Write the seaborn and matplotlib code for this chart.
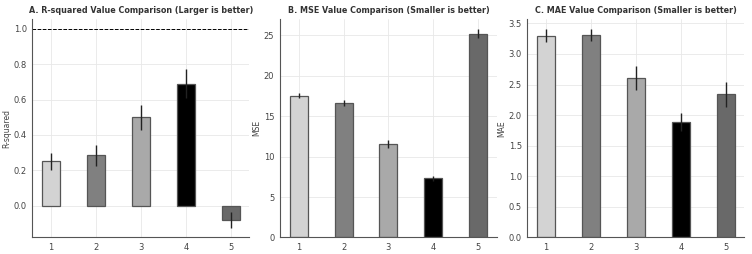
import matplotlib
matplotlib.use('Agg')
import matplotlib.pyplot as plt
import seaborn as sns
import pandas as pd

# data ---------------------------------------------------------------
models = ['1', '2', '3', '4', '5']
bar_colors = ['#d3d3d3', '#808080', '#a9a9a9', '#000000', '#696969']

r2_vals = [0.25, 0.285, 0.50, 0.69, -0.08]
r2_err = [0.05, 0.06, 0.07, 0.08, 0.045]

mse_vals = [17.5, 16.6, 11.6, 7.3, 25.2]
mse_err = [0.3, 0.4, 0.5, 0.3, 0.6]

mae_vals = [3.30, 3.31, 2.61, 1.89, 2.34]
mae_err = [0.10, 0.10, 0.20, 0.15, 0.20]

sns.set_style('whitegrid')
plt.rcParams['font.family'] = ['DejaVu Sans']

fig, axes = plt.subplots(1, 3, figsize=(7.52, 2.54), dpi=100)

panels = [
    (r2_vals, r2_err, 'R-squared', 'A. R-squared Value Comparison (Larger is better)', (-0.18, 1.055)),
    (mse_vals, mse_err, 'MSE', 'B. MSE Value Comparison (Smaller is better)', (0, 27)),
    (mae_vals, mae_err, 'MAE', 'C. MAE Value Comparison (Smaller is better)', (0, 3.57)),
]

for ax, (vals, err, ylab, title, ylim) in zip(axes, panels):
    df = pd.DataFrame({'model': models, 'value': vals})
    sns.barplot(data=df, x='model', y='value', hue='model', palette=bar_colors,
                legend=False, width=0.4, edgecolor='#555555', linewidth=0.9, ax=ax)
    ax.errorbar(range(len(models)), vals, yerr=err, fmt='none', ecolor='#222222',
                elinewidth=1.0, capsize=0, zorder=5)
    ax.set_ylim(*ylim)
    ax.set_title(title, fontsize=5.8, fontweight='bold', color='#333333', pad=4)
    ax.set_ylabel(ylab, fontsize=5.5, color='#444444', labelpad=2)
    ax.set_xlabel('')
    ax.tick_params(labelsize=6, colors='#444444', length=2, pad=2)
    ax.grid(True, color='#e8e8e8', linewidth=0.6)
    ax.set_axisbelow(True)
    for s in ['top', 'right']:
        ax.spines[s].set_visible(False)
    for s in ['left', 'bottom']:
        ax.spines[s].set_color('#555555')
        ax.spines[s].set_linewidth(0.8)

axes[0].axhline(1.0, color='black', linestyle='--', linewidth=0.7)
axes[0].set_yticks([0.0, 0.2, 0.4, 0.6, 0.8, 1.0])
axes[1].set_yticks([0, 5, 10, 15, 20, 25])
axes[2].set_yticks([0.0, 0.5, 1.0, 1.5, 2.0, 2.5, 3.0, 3.5])

plt.subplots_adjust(left=0.043, right=0.99, top=0.925, bottom=0.065, wspace=0.14)
plt.savefig('out.png', dpi=100)
